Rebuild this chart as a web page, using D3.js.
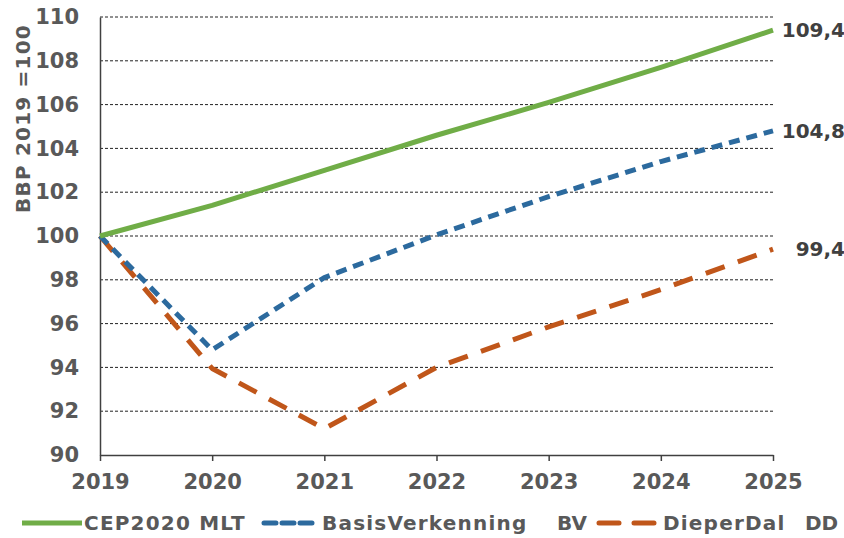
<!DOCTYPE html>
<html>
<head>
<meta charset="utf-8">
<script src="https://cdn.jsdelivr.net/npm/d3@7"></script>
<style>
    body { margin: 0; background: #fff; }
    text { font-family: "DejaVu Sans", Verdana, sans-serif; font-weight: bold; }
</style>
</head>
<body>
<div id="chart"></div>
<script>
// -----------------------------
// data
// -----------------------------

const years = [2019, 2020, 2021, 2022, 2023, 2024, 2025]
const cepMlt = [100, 101.4, 103.0, 104.6, 106.1, 107.7, 109.4]
const basisBV = [100, 94.8, 98.1, 100.05, 101.8, 103.4, 104.8]
const dieperDD = [100, 93.95, 91.2, 94.0, 95.85, 97.55, 99.4]
const yTicks = [90, 92, 94, 96, 98, 100, 102, 104, 106, 108, 110]
const yLabel = 'BBP 2019 =100'

const series = [
    {name: 'CEP2020 MLT', short: '', values: cepMlt, colour: '#70ad47', dash: null},
    {name: 'BasisVerkenning', short: 'BV', values: basisBV, colour: '#2c6a9e', dash: '11,7'},
    {name: 'DieperDal', short: 'DD', values: dieperDD, colour: '#c0561a', dash: '20,14'}
]

// -----------------------------
// layout
// -----------------------------

const w = 844
const h = 538
const plot = {left: 100, right: 773, top: 17, bottom: 455}
const grey = '#595959'

const x = d3.scaleLinear()
    .domain([2019, 2025])
    .range([plot.left, plot.right])

const y = d3.scaleLinear()
    .domain([90, 110])
    .range([plot.bottom, plot.top])

const svg = d3.select('#chart')
    .append('svg')
    .attr('width', w)
    .attr('height', h)

// grid lines
svg.append('g')
    .selectAll('line.grid')
    .data(yTicks.filter(d => d > 90))
    .enter()
    .append('line')
    .attr('class', 'grid')
    .attr('x1', plot.left)
    .attr('x2', plot.right)
    .attr('y1', d => y(d))
    .attr('y2', d => y(d))
    .attr('stroke', '#222')
    .attr('stroke-width', 1)
    .attr('stroke-dasharray', '3,2')

// axes
const xAxis = d3.axisBottom(x)
    .tickValues(years)
    .tickFormat(d3.format('d'))
    .tickSizeInner(6)
    .tickSizeOuter(0)
    .tickPadding(13)

const yAxis = d3.axisLeft(y)
    .tickValues(yTicks)
    .tickSize(0)
    .tickPadding(21)

const gx = svg.append('g')
    .attr('transform', 'translate(0,' + plot.bottom + ')')
    .call(xAxis)
gx.select('.domain').attr('stroke', '#404040').attr('stroke-width', 1.5)
gx.selectAll('.tick line').attr('stroke', '#404040').attr('stroke-width', 1.5)
gx.selectAll('.tick text')
    .attr('fill', grey)
    .attr('font-size', 21)
    .attr('font-family', '"DejaVu Sans", sans-serif')

const gy = svg.append('g')
    .attr('transform', 'translate(' + plot.left + ',0)')
    .call(yAxis)
gy.select('.domain').attr('stroke', '#404040').attr('stroke-width', 1.5)
gy.selectAll('.tick text')
    .attr('fill', grey)
    .attr('font-size', 21)
    .attr('font-family', '"DejaVu Sans", sans-serif')

// y axis title
svg.append('text')
    .attr('transform', 'translate(30,' + ((plot.top + y(100)) / 2 - 8) + ') rotate(-90)')
    .attr('text-anchor', 'middle')
    .attr('fill', grey)
    .attr('font-size', 20)
    .attr('letter-spacing', 1.2)
    .text(yLabel)

// -----------------------------
// lines
// -----------------------------

const line = d3.line()
    .x((d, i) => x(years[i]))
    .y(d => y(d))

svg.append('g')
    .selectAll('path.series')
    .data(series.slice().reverse())
    .enter()
    .append('path')
    .attr('class', 'series')
    .attr('d', d => line(d.values))
    .attr('fill', 'none')
    .attr('stroke', d => d.colour)
    .attr('stroke-width', 5)
    .attr('stroke-dasharray', d => d.dash)
    .attr('stroke-linejoin', 'round')

// end labels
const fmtEnd = v => d3.format('.1f')(v).replace('.', ',')

svg.append('g')
    .selectAll('text.end-lab')
    .data(series)
    .enter()
    .append('text')
    .attr('class', 'end-lab')
    .attr('x', 845)
    .attr('y', d => y(d.values[d.values.length - 1]))
    .attr('dy', '0.35em')
    .attr('text-anchor', 'end')
    .attr('fill', '#404040')
    .attr('font-size', 20)
    .text(d => fmtEnd(d.values[d.values.length - 1]))

// -----------------------------
// legend
// -----------------------------

const legendY = 523
const legendPos = [
    {x1: 22, x2: 82, text: 84, short: null},
    {x1: 264, x2: 318, text: 322, short: 557},
    {x1: 599, x2: 659, text: 663, short: 805}
]
const legendDash = [null, '12,6', '20,15']

const legend = svg.append('g')
series.forEach((s, i) => {
    const p = legendPos[i]
    legend.append('line')
        .attr('x1', p.x1)
        .attr('x2', p.x2)
        .attr('y1', legendY)
        .attr('y2', legendY)
        .attr('stroke', s.colour)
        .attr('stroke-width', 5)
        .attr('stroke-linecap', i === 0 ? 'butt' : 'round')
        .attr('stroke-dasharray', legendDash[i])
    legend.append('text')
        .attr('x', p.text)
        .attr('y', legendY)
        .attr('dy', '0.35em')
        .attr('fill', grey)
        .attr('font-size', 20)
        .attr('letter-spacing', 1.2)
        .text(s.name)
    if (p.short) {
        legend.append('text')
            .attr('x', p.short)
            .attr('y', legendY)
            .attr('dy', '0.35em')
            .attr('fill', grey)
            .attr('font-size', 20)
            .text(s.short)
    }
})
</script>
</body>
</html>
